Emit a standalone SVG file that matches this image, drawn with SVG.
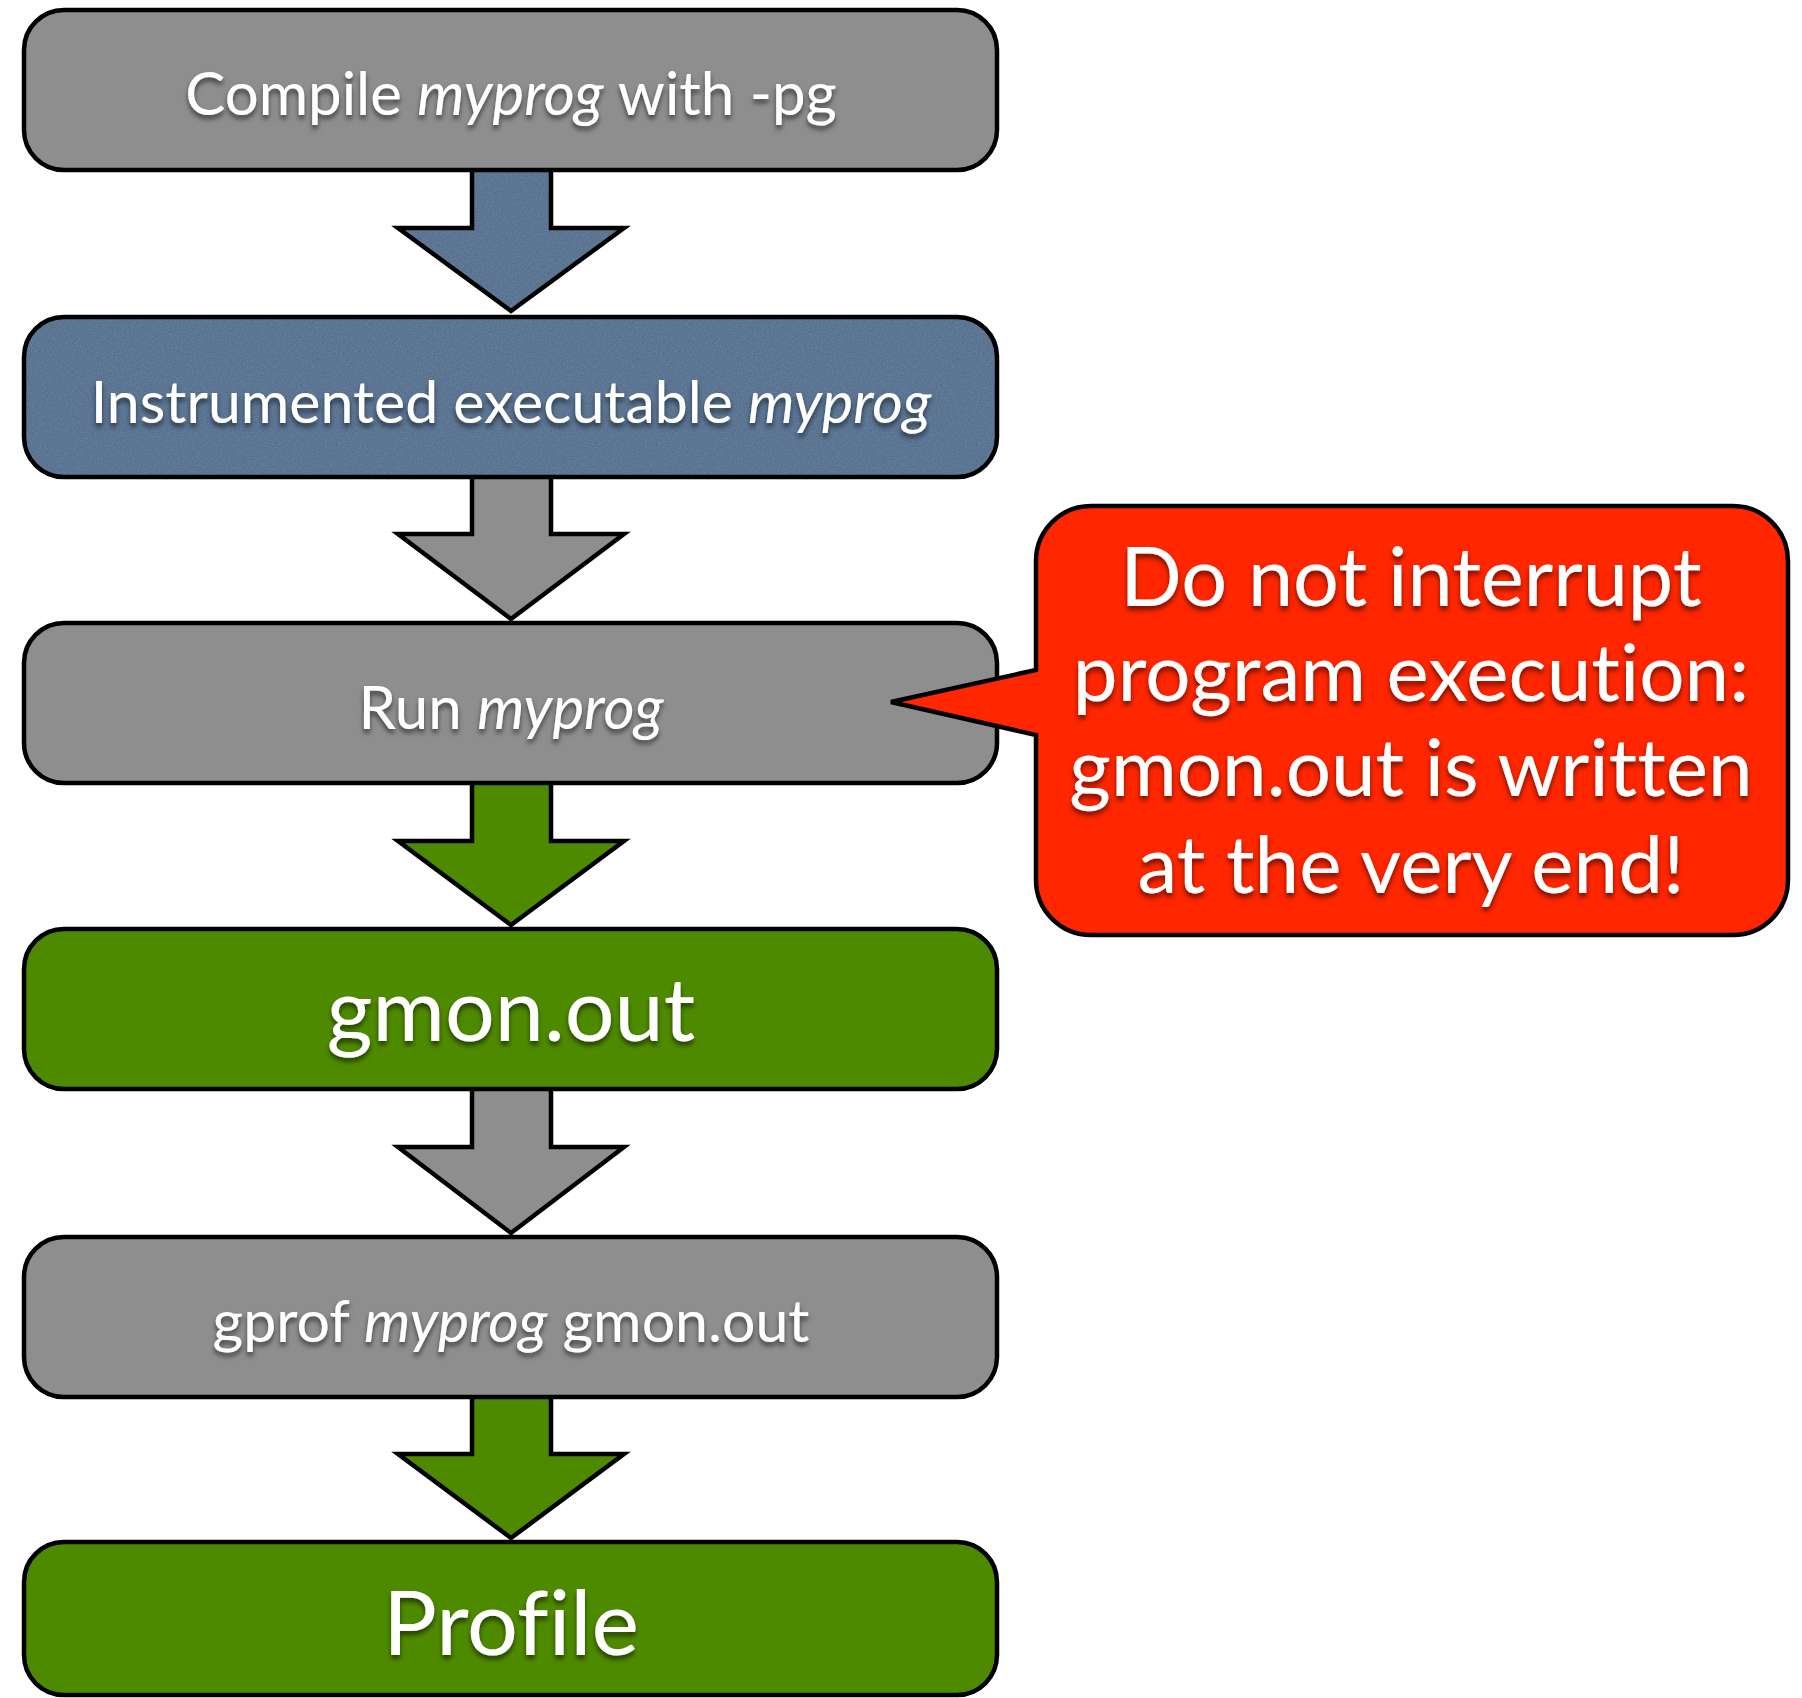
<svg xmlns="http://www.w3.org/2000/svg" width="1802" height="1698" viewBox="0 0 1802 1698">
<style>
.box{stroke:#000;stroke-width:4.5;}
.line{fill:none;stroke:#000;stroke-width:4.5;}
.gray{fill:#8e8e8e;}
.blue{fill:#5a7797;}
.green{fill:#4e8a00;}
.red{fill:#ff2600;}
.arr{stroke:#000;stroke-width:4.5;stroke-linejoin:miter;}
.t{font-family:Lato,"Open Sans","Liberation Sans",sans-serif;fill:#fff;text-anchor:middle;filter:url(#sh);font-variant-ligatures:none;}
.i{font-style:italic;}
</style>
<defs>
<filter id="sh" x="-10%" y="-30%" width="120%" height="160%">
<feDropShadow dx="0" dy="4" stdDeviation="2.5" flood-color="#000" flood-opacity="0.55"/>
</filter>
<filter id="tex" x="0" y="0" width="100%" height="100%" color-interpolation-filters="sRGB">
<feTurbulence type="fractalNoise" baseFrequency="0.8" numOctaves="3" seed="3" result="n"/>
<feColorMatrix in="n" type="matrix" values="0.8 0 0 0 0  0.8 0 0 0 0.05  0.8 0 0 0 0.12  0 0 0 0 0.16" result="c"/>
<feComposite in="c" in2="SourceGraphic" operator="in" result="m"/>
<feMerge><feMergeNode in="SourceGraphic"/><feMergeNode in="m"/></feMerge>
</filter>
</defs>
<rect width="1802" height="1698" fill="#fff"/>
<g id="connectors">
<path class="blue" filter="url(#tex)" d="M472,168 H551 V228 H624 L511,311 L398,228 H472 Z"/>
<path class="line" d="M472,168 H551 V228 H624 L511,311 L398,228 H472 Z"/>
<path class="arr gray" d="M472,475 H551 V534 H624 L511,619 L398,534 H472 Z"/>
<path class="arr green" d="M472,782 H551 V841 H624 L511,925 L398,841 H472 Z"/>
<path class="arr gray" d="M472,1088 H551 V1147 H624 L511,1233 L398,1147 H472 Z"/>
<path class="arr green" d="M472,1396 H551 V1454 H624 L511,1538 L398,1454 H472 Z"/>
</g>
<g id="n1">
<rect class="box gray" x="24" y="10" width="973" height="160" rx="40"/>
<text class="t" x="511" y="115" font-size="60">Compile <tspan class="i">myprog</tspan> with -pg</text>
</g>
<g id="n2">
<rect class="blue" filter="url(#tex)" x="24" y="317" width="973" height="160" rx="40"/>
<rect class="line" x="24" y="317" width="973" height="160" rx="40"/>
<text class="t" x="511" y="423" font-size="59">Instrumented executable <tspan class="i">myprog</tspan></text>
</g>
<g id="n3">
<rect class="box gray" x="24" y="623" width="973" height="160" rx="40"/>
<text class="t" x="511" y="729" font-size="60">Run <tspan class="i">myprog</tspan></text>
</g>
<g id="n4">
<rect class="box green" x="24" y="929" width="973" height="160" rx="40"/>
<text class="t" x="511" y="1041" font-size="88">gmon.out</text>
</g>
<g id="n5">
<rect class="box gray" x="24" y="1237" width="973" height="160" rx="40"/>
<text class="t" x="511" y="1342" font-size="59">gprof <tspan class="i">myprog</tspan> gmon.out</text>
</g>
<g id="n6">
<rect class="box green" x="24" y="1542" width="973" height="153" rx="40"/>
<text class="t" x="511" y="1655" font-size="90">Profile</text>
</g>
<g id="callout">
<path class="box red" d="M1091,506 H1733 A55,55 0 0 1 1788,561 V880 A55,55 0 0 1 1733,935 H1091 A55,55 0 0 1 1036,880 V735 L891,702 L1036,670 V561 A55,55 0 0 1 1091,506 Z"/>
<text class="t" x="1411" y="606" font-size="81">Do not interrupt</text>
<text class="t" x="1411" y="701" font-size="80">program execution:</text>
<text class="t" x="1411" y="796" font-size="80">gmon.out is written</text>
<text class="t" x="1411" y="893" font-size="80">at the very end!</text>
</g>
</svg>
